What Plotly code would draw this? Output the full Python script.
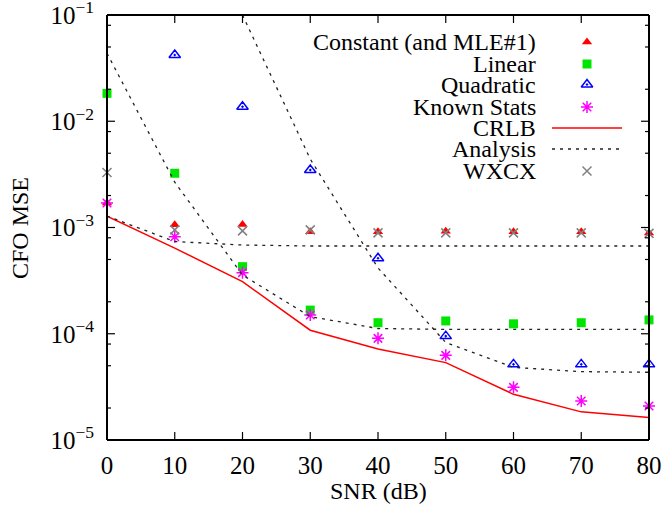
import math
import plotly.graph_objects as go

# ---------------- data ----------------
snr = [0, 10, 20, 30, 40, 50, 60, 70, 80]
constant_mse = [1.70e-3, 1.06e-3, 1.07e-3, 9.1e-4, 9.1e-4, 9.2e-4, 9.1e-4, 9.1e-4, 8.9e-4]
linear_mse = [1.83e-2, 3.24e-3, 4.28e-4, 1.67e-4, 1.27e-4, 1.32e-4, 1.24e-4, 1.27e-4, 1.35e-4]
quad_snr = [10, 20, 30, 40, 50, 60, 70, 80]
quad_mse = [4.2e-2, 1.37e-2, 3.48e-3, 5.13e-4, 9.5e-5, 5.15e-5, 5.15e-5, 5.15e-5]
known_mse = [1.70e-3, 8.2e-4, 3.76e-4, 1.50e-4, 9.05e-5, 6.26e-5, 3.13e-5, 2.33e-5, 2.09e-5]
crlb_mse = [1.28e-3, 6.4e-4, 3.09e-4, 1.08e-4, 7.18e-5, 5.35e-5, 2.69e-5, 1.84e-5, 1.63e-5]
wxcx_mse = [3.3e-3, 9.5e-4, 9.3e-4, 9.5e-4, 8.9e-4, 8.9e-4, 8.9e-4, 8.9e-4, 8.8e-4]
analysis_const = [1.28e-3, 7.38e-4, 6.84e-4, 6.7e-4, 6.7e-4, 6.7e-4, 6.7e-4, 6.7e-4, 6.7e-4]
analysis_linear = [4.36e-2, 2.67e-3, 3.57e-4, 1.45e-4, 1.12e-4, 1.10e-4, 1.10e-4, 1.10e-4, 1.10e-4]
analysis_quad_snr = [20, 30, 40, 50, 60, 70, 80]
analysis_quad = [1.0e-1, 4.41e-3, 4.16e-4, 8.28e-5, 4.83e-5, 4.40e-5, 4.34e-5]

x_ticks = [0, 10, 20, 30, 40, 50, 60, 70, 80]
y_ticks = [1e-5, 1e-4, 1e-3, 1e-2, 1e-1]
y_ticktext = ["10<sup>−5</sup>", "10<sup>−4</sup>", "10<sup>−3</sup>", "10<sup>−2</sup>", "10<sup>−1</sup>"]
legend_labels = ["Constant (and MLE#1)", "Linear", "Quadratic", "Known Stats", "CRLB", "Analysis", "WXCX"]

# ---------------- styles ----------------
FONT = "Liberation Serif, Times New Roman, serif"
RED = "#ff0000"
GREEN = "#00e600"
BLUE = "#0000ff"
MAGENTA = "#ff00ff"
GRAY = "#808080"
DOT = "3px,5px"
ANALYSIS_COLOR = "#222222"

W, H = 664, 507
ML, MR, MT, MB = 107, 15, 15, 67
PW, PH = W - ML - MR, H - MT - MB
X_RANGE = [0, 80]
Y_RANGE = [-5.0, -1.0]

fig = go.Figure()

def add_markers(x, y, name, symbol, color, size, lw=1.5):
    fig.add_trace(go.Scatter(
        x=x, y=y, name=name, mode="markers", cliponaxis=False,
        marker=dict(symbol=symbol, color=color, size=size,
                    line=dict(color=color, width=lw)),
        showlegend=False))

add_markers(snr, constant_mse, legend_labels[0], "triangle-up", RED, 9, 0)
add_markers(snr, linear_mse, legend_labels[1], "square", GREEN, 9, 0)
add_markers(quad_snr, quad_mse, legend_labels[2], "triangle-up-open-dot", BLUE, 10, 1.5)
add_markers(snr, known_mse, legend_labels[3], "asterisk-open", MAGENTA, 10, 1.5)

fig.add_trace(go.Scatter(x=snr, y=crlb_mse, name=legend_labels[4], mode="lines",
                         line=dict(color=RED, width=1.5), showlegend=False))
for ys, xs in ((analysis_const, snr), (analysis_linear, snr), (analysis_quad, analysis_quad_snr)):
    fig.add_trace(go.Scatter(x=xs, y=ys, name=legend_labels[5], mode="lines",
                             line=dict(color=ANALYSIS_COLOR, width=1.3, dash=DOT),
                             showlegend=False))

add_markers(snr, wxcx_mse, legend_labels[6], "x-thin-open", GRAY, 9, 1.5)

# ---------------- helpers ----------------
def px2paper(px, py):
    return (px - ML) / PW, (MT + PH - py) / PH

def px2data(px, py):
    fx, fy = px2paper(px, py)
    return (X_RANGE[0] + fx * (X_RANGE[1] - X_RANGE[0]),
            10 ** (Y_RANGE[0] + fy * (Y_RANGE[1] - Y_RANGE[0])))

def yval2paper(v):
    return (math.log10(v) - Y_RANGE[0]) / (Y_RANGE[1] - Y_RANGE[0])

def xval2paper(v):
    return (v - X_RANGE[0]) / (X_RANGE[1] - X_RANGE[0])

def seg(xa, ya, xb, yb, width=1.2, color="black", dash=None):
    ln = dict(color=color, width=width)
    if dash:
        ln["dash"] = dash
    fig.add_shape(type="line", xref="paper", yref="paper", x0=xa, y0=ya, x1=xb, y1=yb,
                  line=ln, layer="above")

# ---------------- custom legend (text left, sample right) ----------------
leg_text_right = 538
leg_sample_x = 587
leg_rows = [42, 64, 84.5, 107, 128, 149, 171]
leg_styles = [("triangle-up", RED, 9, 0), ("square", GREEN, 9, 0),
              ("triangle-up-open-dot", BLUE, 10, 1.5), ("asterisk-open", MAGENTA, 10, 1.5),
              None, None, ("x-thin-open", GRAY, 9, 1.5)]
for label, row, style in zip(legend_labels, leg_rows, leg_styles):
    tx, ty = px2paper(leg_text_right, row)
    fig.add_annotation(x=tx, y=ty, xref="paper", yref="paper", text=label,
                       showarrow=False, xanchor="right", yanchor="middle",
                       font=dict(family=FONT, size=24, color="black"))
    if style is not None:
        sx, sy = px2data(leg_sample_x, row)
        sym, col, sz, lw = style
        fig.add_trace(go.Scatter(x=[sx], y=[sy], mode="markers",
                                 cliponaxis=False, showlegend=False, hoverinfo="skip",
                                 marker=dict(symbol=sym, color=col, size=sz,
                                             line=dict(color=col, width=lw))))
x0, y_crlb = px2paper(552, leg_rows[4])
x1, _ = px2paper(622, leg_rows[4])
seg(x0, y_crlb, x1, y_crlb, 1.5, RED)
_, y_an = px2paper(552, leg_rows[5])
seg(x0, y_an, x1, y_an, 1.3, ANALYSIS_COLOR, DOT)

# axis titles as annotations for exact placement
tx, ty = px2paper(378, 491)
fig.add_annotation(x=tx, y=ty, xref="paper", yref="paper", text="SNR (dB)",
                   showarrow=False, xanchor="center", yanchor="middle",
                   font=dict(family=FONT, size=24, color="black"))
tx, ty = px2paper(20, 228)
fig.add_annotation(x=tx, y=ty, xref="paper", yref="paper", text="CFO MSE",
                   showarrow=False, xanchor="center", yanchor="middle", textangle=-90,
                   font=dict(family=FONT, size=24, color="black"))

# ---------------- frame and inside ticks on all four sides ----------------
FRAME_W = 2
seg(0, 0, 1, 0, FRAME_W)
seg(0, 1, 1, 1, FRAME_W)
seg(0, 0, 0, 1, FRAME_W)
seg(1, 0, 1, 1, FRAME_W)
MAJ, MIN = 8, 4
for v in x_ticks:
    fx = xval2paper(v)
    seg(fx, 0, fx, MAJ / PH)
    seg(fx, 1, fx, 1 - MAJ / PH)
for v in y_ticks:
    fy = yval2paper(v)
    seg(0, fy, MAJ / PW, fy)
    seg(1, fy, 1 - MAJ / PW, fy)
minor_vals = [m * 10.0 ** k for k in range(-5, -1) for m in (2, 5, 8)]
for v in minor_vals:
    fy = yval2paper(v)
    seg(0, fy, MIN / PW, fy)
    seg(1, fy, 1 - MIN / PW, fy)

fig.update_layout(
    width=W, height=H,
    margin=dict(l=ML, r=MR, t=MT, b=MB, autoexpand=False),
    paper_bgcolor="white", plot_bgcolor="white",
    font=dict(family=FONT, size=24, color="black"),
    showlegend=False,
    xaxis=dict(range=X_RANGE, tickvals=x_ticks, ticks="", showline=False,
               showgrid=False, zeroline=False, automargin=False,
               ticklabeloverflow="allow",
               tickfont=dict(family=FONT, size=25), ticklabelstandoff=8),
    yaxis=dict(type="log", range=Y_RANGE, tickvals=y_ticks, ticktext=y_ticktext,
               ticks="", showline=False, showgrid=False, zeroline=False,
               automargin=False, ticklabeloverflow="allow",
               tickfont=dict(family=FONT, size=25), ticklabelstandoff=12),
)

fig.write_html("out.html", config={"displayModeBar": False},
               post_script="document.body.style.margin='0';document.body.style.overflow='hidden';")
